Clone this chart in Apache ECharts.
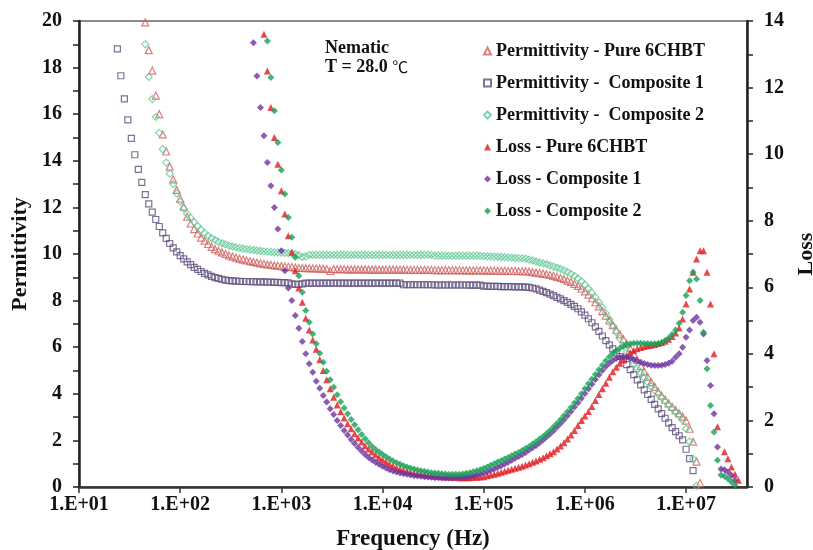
<!DOCTYPE html>
<html>
<head>
<meta charset="utf-8">
<title>Dielectric spectra – 6CHBT and composites</title>
<script src="https://cdn.jsdelivr.net/npm/echarts@6/dist/echarts.min.js"></script>
<style>
  html, body { margin: 0; padding: 0; background: #fff; }
  #chart { width: 813px; height: 550px; }
</style>
</head>
<body>
<div id="chart"></div>
<script>
// Measurement frequencies (Hz), logarithmic sweep, 29 points per decade
const freqHz = [
  // 10 Hz – 100 Hz
  23.95, 25.93, 28.07, 30.39, 32.90, 35.62, 38.57, 41.75, 45.20, 48.94, 52.98, 57.36, 62.10, 67.23, 72.79, 78.80, 85.32, 92.37,
  // 100 Hz – 1 kHz
  100, 108.3, 117.2, 126.9, 137.4, 148.7, 161.0, 174.3, 188.7, 204.3, 221.2, 239.5, 259.3, 280.7, 303.9, 329.0, 356.2, 385.7, 417.5, 452.0, 489.4, 529.8, 573.6, 621.0, 672.3, 727.9, 788.0, 853.2, 923.7,
  // 1 kHz – 10 kHz
  1000, 1083, 1172, 1269, 1374, 1487, 1610, 1743, 1887, 2043, 2212, 2395, 2593, 2807, 3039, 3290, 3562, 3857, 4175, 4520, 4894, 5298, 5736, 6210, 6723, 7279, 7880, 8532, 9237,
  // 10 kHz – 100 kHz
  1.000e4, 1.083e4, 1.172e4, 1.269e4, 1.374e4, 1.487e4, 1.610e4, 1.743e4, 1.887e4, 2.043e4, 2.212e4, 2.395e4, 2.593e4, 2.807e4, 3.039e4, 3.290e4, 3.562e4, 3.857e4, 4.175e4, 4.520e4, 4.894e4, 5.298e4, 5.736e4, 6.210e4, 6.723e4, 7.279e4, 7.880e4, 8.532e4, 9.237e4,
  // 100 kHz – 1 MHz
  1.000e5, 1.083e5, 1.172e5, 1.269e5, 1.374e5, 1.487e5, 1.610e5, 1.743e5, 1.887e5, 2.043e5, 2.212e5, 2.395e5, 2.593e5, 2.807e5, 3.039e5, 3.290e5, 3.562e5, 3.857e5, 4.175e5, 4.520e5, 4.894e5, 5.298e5, 5.736e5, 6.210e5, 6.723e5, 7.279e5, 7.880e5, 8.532e5, 9.237e5,
  // 1 MHz – 10 MHz
  1.000e6, 1.083e6, 1.172e6, 1.269e6, 1.374e6, 1.487e6, 1.610e6, 1.743e6, 1.887e6, 2.043e6, 2.212e6, 2.395e6, 2.593e6, 2.807e6, 3.039e6, 3.290e6, 3.562e6, 3.857e6, 4.175e6, 4.520e6, 4.894e6, 5.298e6, 5.736e6, 6.210e6, 6.723e6, 7.279e6, 7.880e6, 8.532e6, 9.237e6,
  // 10 MHz – 33 MHz
  1.000e7, 1.083e7, 1.172e7, 1.269e7, 1.374e7, 1.487e7, 1.610e7, 1.743e7, 1.887e7, 2.043e7, 2.212e7, 2.395e7, 2.593e7, 2.807e7, 3.039e7, 3.290e7
];

// Permittivity (left axis); null = outside the plotted range
const permPure = [
  null, null, null, null, null, null, null, null, 19.94, 18.75, 17.87, 16.8, 16.0, 15.13, 14.4, 13.75, 13.2, 12.75,
  12.38, 12.03, 11.6, 11.31, 11.07, 10.88, 10.7, 10.57, 10.43, 10.31, 10.21, 10.14, 10.07, 10.0, 9.94, 9.89, 9.84, 9.8, 9.76, 9.72, 9.69, 9.66, 9.63, 9.6, 9.58, 9.55, 9.53, 9.51, 9.5,
  9.48, 9.46, 9.45, 9.44, 9.42, 9.4, 9.4, 9.39, 9.39, 9.38, 9.38, 9.37, 9.37, 9.36, 9.27, 9.35, 9.35, 9.35, 9.35, 9.34, 9.34, 9.34, 9.34, 9.34, 9.34, 9.33, 9.33, 9.33, 9.33,
  9.33, 9.33, 9.33, 9.33, 9.33, 9.33, 9.33, 9.32, 9.32, 9.32, 9.32, 9.32, 9.32, 9.32, 9.32, 9.31, 9.31, 9.31, 9.31, 9.31, 9.31, 9.31, 9.31, 9.3, 9.3, 9.3, 9.3, 9.3, 9.3,
  9.3, 9.29, 9.29, 9.29, 9.28, 9.28, 9.28, 9.27, 9.27, 9.27, 9.26, 9.26, 9.26, 9.24, 9.22, 9.2, 9.18, 9.16, 9.13, 9.1, 9.06, 9.02, 8.97, 8.92, 8.86, 8.8, 8.72, 8.63, 8.52,
  8.4, 8.26, 8.1, 7.93, 7.75, 7.55, 7.35, 7.15, 6.95, 6.75, 6.55, 6.35, 6.15, 5.95, 5.7, 5.45, 5.2, 4.95, 4.72, 4.5, 4.3, 4.1, 3.92, 3.75, 3.59, 3.44, 3.3, 3.16, 3.02,
  2.85, 2.5, 1.95, 1.09, 0.17, null, null, null, null, null, null, null, null, null, null, null
];
const permComposite1 = [
  18.80, 17.65, 16.66, 15.76, 14.96, 14.26, 13.63, 13.07, 12.55, 12.15, 11.80, 11.48, 11.18, 10.91, 10.67, 10.45, 10.26, 10.09,
  9.93, 9.79, 9.66, 9.54, 9.43, 9.34, 9.25, 9.17, 9.10, 9.04, 8.99, 8.95, 8.91, 8.88, 8.86, 8.85, 8.84, 8.83, 8.82, 8.82, 8.81, 8.81, 8.8, 8.8, 8.8, 8.79, 8.79, 8.78, 8.78,
  8.77, 8.77, 8.76, 8.72, 8.7, 8.7, 8.72, 8.75, 8.75, 8.75, 8.75, 8.75, 8.75, 8.75, 8.75, 8.75, 8.75, 8.75, 8.75, 8.75, 8.75, 8.75, 8.75, 8.75, 8.75, 8.75, 8.75, 8.75, 8.75,
  8.75, 8.75, 8.75, 8.75, 8.75, 8.75, 8.68, 8.68, 8.68, 8.68, 8.68, 8.68, 8.68, 8.68, 8.68, 8.67, 8.67, 8.67, 8.67, 8.67, 8.67, 8.67, 8.67, 8.67, 8.67, 8.66, 8.66, 8.66, 8.66,
  8.62, 8.62, 8.61, 8.61, 8.61, 8.6, 8.6, 8.6, 8.6, 8.59, 8.59, 8.59, 8.58, 8.57, 8.54, 8.5, 8.45, 8.4, 8.34, 8.28, 8.21, 8.14, 8.07, 8.0, 7.92, 7.84, 7.75, 7.65, 7.52,
  7.38, 7.22, 7.05, 6.87, 6.68, 6.48, 6.28, 6.1, 5.93, 5.76, 5.6, 5.45, 5.25, 5.04, 4.82, 4.6, 4.38, 4.17, 3.97, 3.76, 3.55, 3.35, 3.15, 2.95, 2.75, 2.55, 2.38, 2.2, 2.02,
  1.62, 1.22, 0.70, null, null, null, null, null, null, null, null, null, null, null, null, null
];
const permComposite2 = [
  null, null, null, null, null, null, null, null, 19.0, 17.6, 16.65, 15.88, 15.2, 14.5, 13.92, 13.45, 13.0, 12.6,
  12.25, 11.95, 11.72, 11.55, 11.37, 11.2, 11.04, 10.9, 10.78, 10.68, 10.6, 10.52, 10.46, 10.41, 10.36, 10.32, 10.29, 10.26, 10.23, 10.21, 10.19, 10.17, 10.15, 10.13, 10.11, 10.1, 10.09, 10.08, 10.07,
  10.06, 10.05, 10.04, 10.03, 10.0, 9.95, 9.88, 9.9, 9.96, 9.96, 9.96, 9.96, 9.96, 9.96, 9.96, 9.96, 9.96, 9.96, 9.96, 9.96, 9.96, 9.96, 9.96, 9.96, 9.96, 9.96, 9.96, 9.96, 9.96,
  9.96, 9.96, 9.96, 9.96, 9.96, 9.96, 9.96, 9.96, 9.96, 9.96, 9.96, 9.96, 9.96, 9.96, 9.96, 9.93, 9.93, 9.93, 9.93, 9.93, 9.93, 9.93, 9.93, 9.93, 9.93, 9.93, 9.93, 9.93, 9.92,
  9.91, 9.9, 9.9, 9.89, 9.88, 9.87, 9.86, 9.85, 9.84, 9.83, 9.82, 9.81, 9.8, 9.76, 9.72, 9.68, 9.64, 9.6, 9.56, 9.51, 9.46, 9.41, 9.36, 9.3, 9.23, 9.15, 9.06, 8.95, 8.83,
  8.68, 8.52, 8.34, 8.14, 7.93, 7.7, 7.46, 7.2, 6.93, 6.65, 6.37, 6.08, 5.8, 5.54, 5.3, 5.08, 4.88, 4.69, 4.5, 4.32, 4.15, 3.99, 3.83, 3.67, 3.52, 3.37, 3.22, 3.06, 2.88,
  2.5, 1.95, 1.2, 0.05, null, null, null, null, null, null, null, null, null, null, null, null
];

// Dielectric loss (right axis)
const lossPure = [
  null, null, null, null, null, null, null, null, null, null, null, null, null, null, null, null, null, null,
  null, null, null, null, null, null, null, null, null, null, null, null, null, null, null, null, null, null, null, null, null, null, null, null, 13.6, 12.5, 11.4, 10.5, 9.7,
  8.9, 8.2, 7.55, 7.05, 6.5, 5.98, 5.55, 5.07, 4.72, 4.42, 4.14, 3.82, 3.5, 3.22, 2.95, 2.7, 2.46, 2.26, 2.07, 1.9, 1.75, 1.6, 1.47, 1.35, 1.24, 1.14, 1.05, 0.97, 0.89,
  0.82, 0.75, 0.69, 0.63, 0.58, 0.54, 0.5, 0.47, 0.44, 0.42, 0.4, 0.38, 0.36, 0.35, 0.34, 0.33, 0.32, 0.31, 0.3, 0.3, 0.29, 0.29, 0.28, 0.28, 0.28, 0.28, 0.29, 0.29, 0.3,
  0.31, 0.34, 0.36, 0.38, 0.41, 0.44, 0.47, 0.5, 0.53, 0.56, 0.59, 0.62, 0.66, 0.7, 0.74, 0.78, 0.83, 0.88, 0.94, 1.0, 1.06, 1.14, 1.23, 1.33, 1.44, 1.56, 1.7, 1.85, 2.0,
  2.13, 2.27, 2.42, 2.6, 2.78, 2.95, 3.12, 3.3, 3.46, 3.6, 3.72, 3.83, 3.94, 4.03, 4.1, 4.15, 4.19, 4.22, 4.24, 4.26, 4.28, 4.31, 4.34, 4.38, 4.44, 4.52, 4.63, 4.78, 5.05,
  5.5, 5.95, 6.45, 6.85, 7.1, 7.1, 6.45, 5.5, 4.0, 1.81, null, 1.06, 0.85, 0.6, 0.38, 0.2
];
const lossComposite1 = [
  null, null, null, null, null, null, null, null, null, null, null, null, null, null, null, null, null, null,
  null, null, null, null, null, null, null, null, null, null, null, null, null, null, null, null, null, null, null, null, null, 13.35, 12.35, 11.4, 10.55, 9.75, 9.05, 8.4, 7.75,
  7.1, 6.5, 5.98, 5.6, 5.15, 4.77, 4.37, 4.0, 3.7, 3.45, 3.18, 2.97, 2.75, 2.55, 2.35, 2.18, 2.0, 1.85, 1.7, 1.56, 1.43, 1.31, 1.19, 1.08, 0.98, 0.89, 0.81, 0.74, 0.68,
  0.62, 0.57, 0.52, 0.48, 0.45, 0.42, 0.4, 0.38, 0.36, 0.34, 0.33, 0.32, 0.31, 0.3, 0.29, 0.28, 0.28, 0.27, 0.27, 0.27, 0.27, 0.28, 0.28, 0.29, 0.3, 0.32, 0.34, 0.36, 0.39,
  0.42, 0.46, 0.5, 0.54, 0.59, 0.64, 0.69, 0.74, 0.8, 0.86, 0.92, 0.98, 1.04, 1.11, 1.18, 1.25, 1.33, 1.41, 1.5, 1.59, 1.69, 1.8, 1.91, 2.02, 2.14, 2.27, 2.4, 2.53, 2.67,
  2.81, 2.95, 3.09, 3.23, 3.37, 3.5, 3.62, 3.72, 3.8, 3.86, 3.9, 3.91, 3.9, 3.87, 3.83, 3.79, 3.75, 3.71, 3.68, 3.66, 3.65, 3.65, 3.66, 3.68, 3.72, 3.78, 3.9, 4.0, 4.2,
  4.5, 4.72, 5.0, 5.1, 4.95, 4.6, 3.8, 3.05, 2.2, 1.2, 0.54, 0.52, 0.45, 0.35, 0.2, null
];
const lossComposite2 = [
  null, null, null, null, null, null, null, null, null, null, null, null, null, null, null, null, null, null,
  null, null, null, null, null, null, null, null, null, null, null, null, null, null, null, null, null, null, null, null, null, null, null, null, null, 13.4, 12.3, 11.3, 10.35,
  9.52, 8.8, 8.1, 7.5, 6.9, 6.35, 5.85, 5.3, 4.95, 4.6, 4.3, 4.02, 3.75, 3.48, 3.22, 3.0, 2.77, 2.56, 2.37, 2.2, 2.03, 1.87, 1.72, 1.58, 1.45, 1.33, 1.22, 1.13, 1.05,
  0.98, 0.91, 0.84, 0.78, 0.73, 0.68, 0.64, 0.6, 0.57, 0.54, 0.51, 0.49, 0.47, 0.45, 0.43, 0.42, 0.41, 0.4, 0.39, 0.38, 0.38, 0.38, 0.38, 0.39, 0.41, 0.43, 0.46, 0.49, 0.52,
  0.56, 0.6, 0.65, 0.7, 0.75, 0.79, 0.84, 0.89, 0.94, 0.99, 1.04, 1.1, 1.16, 1.22, 1.29, 1.36, 1.44, 1.52, 1.61, 1.7, 1.8, 1.91, 2.02, 2.14, 2.26, 2.39, 2.52, 2.66, 2.8,
  2.95, 3.1, 3.24, 3.38, 3.52, 3.66, 3.79, 3.91, 4.01, 4.1, 4.17, 4.23, 4.27, 4.3, 4.32, 4.32, 4.32, 4.31, 4.31, 4.3, 4.3, 4.31, 4.34, 4.4, 4.48, 4.58, 4.72, 4.92, 5.25,
  5.75, 6.2, 6.45, 6.25, 5.6, 4.65, 3.55, 2.45, 1.65, 0.8, 0.36, 0.32, 0.25, 0.15, 0.05, null
];

// Axis ticks
const decadeTicks = [1e1, 1e2, 1e3, 1e4, 1e5, 1e6, 1e7];
const permTicks = { min: 0, max: 20, step: 2 };
const lossTicks = { min: 0, max: 14, step: 2 };

const seriesNames = [
  'Permittivity - Pure 6CHBT',
  'Permittivity -  Composite 1',
  'Permittivity -  Composite 2',
  'Loss - Pure 6CHBT',
  'Loss - Composite 1',
  'Loss - Composite 2'
];

const SERIF = "'Liberation Serif', 'Times New Roman', 'DejaVu Serif', serif";
const INK = '#111';

function toPoints(values) {
  return freqHz.map((f, i) => [f, values[i]]).filter(p => p[1] !== null);
}

function hollow(name, values, symbol, size, color) {
  return {
    name, type: 'scatter', yAxisIndex: 0, symbol, symbolSize: size,
    data: toPoints(values),
    itemStyle: { color: 'rgba(255,255,255,0)', borderColor: color, borderWidth: 1.2 },
    emphasis: { disabled: true }
  };
}
function filled(name, values, symbol, size, color) {
  return {
    name, type: 'scatter', yAxisIndex: 1, symbol, symbolSize: size,
    data: toPoints(values),
    itemStyle: { color },
    emphasis: { disabled: true }
  };
}

function decadeLabel(v) {
  const e = Math.log10(v);
  const r = Math.round(e);
  if (Math.abs(e - r) > 1e-6) return '';
  return '1.E+' + (r < 10 ? '0' : '') + r;
}

const chart = echarts.init(document.getElementById('chart'), null, { renderer: 'canvas' });

chart.setOption({
  animation: false,
  backgroundColor: '#fff',
  grid: {
    left: 79, right: 66, top: 21, bottom: 63,
    outerBoundsMode: 'none', containLabel: false,
    show: true, borderColor: '#8a8a8a', borderWidth: 2, backgroundColor: 'transparent'
  },
  legend: {
    orient: 'vertical', left: 483, top: 42, padding: 0,
    itemWidth: 7, itemHeight: 7, itemGap: 14,
    data: seriesNames,
    textStyle: { fontFamily: SERIF, fontWeight: 'bold', fontSize: 18, color: INK, lineHeight: 17 },
    selectedMode: false
  },
  graphic: [
    { type: 'text', left: 325, top: 39, style: { text: 'Nematic', font: "bold 18px 'Liberation Serif', serif", fill: INK } },
    {
      type: 'text', left: 325, top: 58,
      style: {
        text: '{a|T = 28.0 }{b|℃}',
        rich: {
          a: { fontFamily: SERIF, fontWeight: 'bold', fontSize: 18, fill: INK, color: INK },
          b: { fontFamily: "'Noto Sans CJK SC', sans-serif", fontWeight: 'normal', fontSize: 16, fill: INK, color: INK }
        }
      }
    }
  ],
  xAxis: {
    type: 'log', logBase: 10, min: 10, max: 4e7,
    name: 'Frequency (Hz)', nameLocation: 'middle', nameGap: 41,
    nameTextStyle: { fontFamily: SERIF, fontWeight: 'bold', fontSize: 23, color: INK },
    axisLine: { show: true, onZero: false, lineStyle: { color: '#333', width: 2.5 } },
    axisTick: { show: true, inside: false, length: 6, customValues: decadeTicks, lineStyle: { color: '#333', width: 1.5 } },
    axisLabel: {
      margin: 8, fontFamily: SERIF, fontWeight: 'bold', fontSize: 20, color: INK,
      customValues: decadeTicks, formatter: decadeLabel
    },
    splitLine: { show: false },
    minorTick: { show: false }
  },
  yAxis: [
    {
      type: 'value', position: 'left',
      min: permTicks.min, max: permTicks.max, interval: permTicks.step,
      name: 'Permittivity', nameLocation: 'middle', nameRotate: 90, nameGap: 41,
      nameTextStyle: { fontFamily: SERIF, fontWeight: 'bold', fontSize: 22, color: INK },
      axisLine: { show: true, lineStyle: { color: '#222', width: 2.5 } },
      axisTick: { show: true, inside: false, length: 6, lineStyle: { color: '#222', width: 1.5 } },
      minorTick: { show: true, splitNumber: 2, length: 6, lineStyle: { color: '#222', width: 1.5 } },
      axisLabel: { margin: 17, fontFamily: SERIF, fontWeight: 'bold', fontSize: 20, color: INK },
      splitLine: { show: false }
    },
    {
      type: 'value', position: 'right',
      min: lossTicks.min, max: lossTicks.max, interval: lossTicks.step,
      name: 'Loss', nameLocation: 'middle', nameRotate: 90, nameGap: 44,
      nameTextStyle: { fontFamily: SERIF, fontWeight: 'bold', fontSize: 22, color: INK },
      axisLine: { show: true, lineStyle: { color: '#222', width: 2.5 } },
      axisTick: { show: true, inside: false, length: 6, lineStyle: { color: '#222', width: 1.5 } },
      minorTick: { show: true, splitNumber: 2, length: 6, lineStyle: { color: '#222', width: 1.5 } },
      axisLabel: { margin: 17, fontFamily: SERIF, fontWeight: 'bold', fontSize: 20, color: INK },
      splitLine: { show: false }
    }
  ],
  series: [
    hollow(seriesNames[0], permPure, 'triangle', 7, '#d0615f'),
    hollow(seriesNames[1], permComposite1, 'rect', 6, '#5e4d7c'),
    hollow(seriesNames[2], permComposite2, 'diamond', 7, '#62c996'),
    filled(seriesNames[3], lossPure, 'triangle', 7, '#e01b1e'),
    filled(seriesNames[4], lossComposite1, 'diamond', 7, '#6f32a0'),
    filled(seriesNames[5], lossComposite2, 'diamond', 7, '#17a055')
  ]
});
</script>
</body>
</html>
